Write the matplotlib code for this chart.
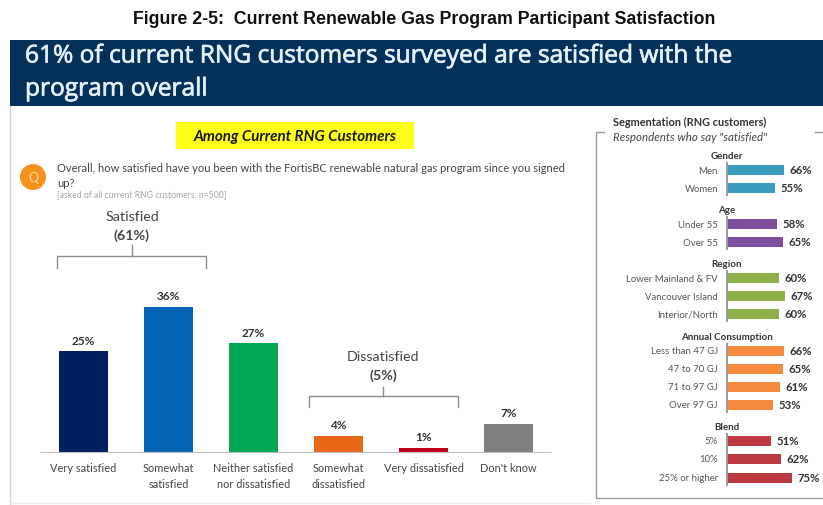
import matplotlib
matplotlib.use("Agg")
import matplotlib.pyplot as plt
import matplotlib.patheffects as pe
from matplotlib.patches import Rectangle, Circle

W, H = 823, 506
FONT = ["Lato", "Open Sans", "DejaVu Sans"]
plt.rcParams["font.family"] = FONT

# Main chart
main_labels = ["Very satisfied", "Somewhat\nsatisfied", "Neither satisfied\nnor dissatisfied",
               "Somewhat\ndissatisfied", "Very dissatisfied", "Don't know"]
main_values = [25, 36, 27, 4, 1, 7]
main_colors = ["#002060", "#0563B5", "#00A650", "#E8681A", "#C00018", "#7F7F7F"]

# Segmentation
seg_groups = ["Gender", "Age", "Region", "Annual Consumption", "Blend"]
seg_labels = [["Men", "Women"], ["Under 55", "Over 55"],
              ["Lower Mainland & FV", "Vancouver Island", "Interior/North"],
              ["Less than 47 GJ", "47 to 70 GJ", "71 to 97 GJ", "Over 97 GJ"],
              ["5%", "10%", "25% or higher"]]
seg_values = [[66, 55], [58, 65], [60, 67, 60], [66, 65, 61, 53], [51, 62, 75]]
seg_colors = ["#3A9DBE", "#7E4F9E", "#8DB04A", "#F58A3C", "#BE3A42"]


def px_axes(fig, x0, y0, x1, y1):
    return fig.add_axes([x0 / W, 1 - y1 / H, (x1 - x0) / W, (y1 - y0) / H])


fig = plt.figure(figsize=(W / 100, H / 100), dpi=100, facecolor="white")

# Overlay in pixel coordinates for slide furniture
bg = fig.add_axes([0, 0, 1, 1])
bg.set_xlim(0, W)
bg.set_ylim(H, 0)
bg.axis("off")

bg.text(424.5, 19, "Figure 2-5:  Current Renewable Gas Program Participant Satisfaction",
        ha="center", va="center", fontsize=12.8, fontweight="bold",
        family=["Liberation Sans"], color="#111111")
bg.add_patch(Rectangle((10, 41), W - 10, 66, fc="#04305A", ec="none"))
stroke = [pe.withStroke(linewidth=0.5, foreground="#E4F1F8")]
bg.text(25, 57, "61% of current RNG customers surveyed are satisfied with the",
        color="#E4F1F8", fontsize=17.65, va="center", family=["Open Sans"], path_effects=stroke)
bg.text(25, 90, "program overall", color="#E4F1F8", fontsize=17.65, va="center",
        family=["Open Sans"], path_effects=stroke)

bg.plot([10.5, 10.5], [107, 505], color="#D4D4D4", lw=1)
bg.plot([10.5, 590], [504, 504], color="#EDEDED", lw=1)

bg.add_patch(Rectangle((176, 123), 238, 27, fc="#FFFF1A", ec="none"))
bg.text(295, 137, "Among Current RNG Customers", ha="center", va="center",
        fontsize=10.9, fontweight="bold", fontstyle="italic", color="#1A1A1A")

bg.add_patch(Circle((33, 178), 13, fc="#F5921E", ec="none"))
bg.text(33, 178, "Q", color="#FBD9A8", ha="center", va="center", fontsize=9)
bg.text(57, 168, "Overall, how satisfied have you been with the FortisBC renewable natural gas program since you signed",
        fontsize=8.0, va="center", color="#444444")
bg.text(57, 183, "up?", fontsize=8.0, va="center", color="#444444")
bg.text(57, 195, "[asked of all current RNG customers, n=500]", fontsize=6.2, va="center", color="#A5A5A5")

bg.text(132, 217, "Satisfied", fontsize=10.3, ha="center", va="center", color="#444444")
bg.text(132, 236, "(61%)", fontsize=10.3, ha="center", va="center", fontweight="bold", color="#444444")
bg.plot([57.5, 57.5, 206, 206], [269, 257, 257, 269], color="#8C8C8C", lw=1)
bg.plot([132, 132], [246, 257], color="#8C8C8C", lw=1)

bg.text(383, 357, "Dissatisfied", fontsize=10.3, ha="center", va="center", color="#444444")
bg.text(383, 376, "(5%)", fontsize=10.3, ha="center", va="center", fontweight="bold", color="#444444")
bg.plot([309, 309, 458, 458], [408, 397, 397, 408], color="#8C8C8C", lw=1)
bg.plot([383, 383], [388, 397], color="#8C8C8C", lw=1)

# Segmentation frame and heading (the right side runs off the canvas)
bg.plot([604, 596, 596, 823], [132.5, 132.5, 499, 499], color="#9A9A9A", lw=1)
bg.plot([815, 823], [132.5, 132.5], color="#9A9A9A", lw=1)
bg.text(613, 122, "Segmentation (RNG customers)", fontsize=7.9, fontweight="bold",
        va="center", color="#333333")
bg.text(613, 137.5, "Respondents who say \"satisfied\"", fontsize=8.3, fontstyle="italic",
        va="center", color="#444444")

# Main bars
ax = px_axes(fig, 41, 300, 550, 453)
ax.patch.set_alpha(0)
px_per_unit = 4.03
ax.set_ylim(0, 153 / px_per_unit)
ax.set_xlim(-(83.5 - 41) / 85, (550 - 83.5) / 85)
xs = list(range(len(main_values)))
ax.bar(xs, main_values, width=49 / 85, color=main_colors)
for x, v in zip(xs, main_values):
    ax.annotate(f"{v}%", (x, v), xytext=(0, 4), textcoords="offset points", ha="center", va="bottom",
                fontsize=8.5, fontweight="bold", color="#333333")
for s in ["top", "left", "right"]:
    ax.spines[s].set_visible(False)
ax.spines["bottom"].set_color("#BDBDBD")
ax.set_yticks([])
ax.set_xticks(xs, main_labels, fontsize=7.9, color="#444444", linespacing=1.5, va="top")
ax.tick_params(axis="x", length=0, pad=7.5)

# Segmentation bars: each group has its own short axis line
seg = px_axes(fig, 727, 162, 818, 489)
seg.patch.set_alpha(0)
seg.set_xlim(0, 91 / 0.864)
seg.set_ylim(489, 162)
row_y = [[171, 189], [225, 243], [279, 297, 315], [352, 370, 388, 406], [442, 460, 479]]
for group, labs, vals, col, ys in zip(seg_groups, seg_labels, seg_values, seg_colors, row_y):
    seg.barh(ys, vals, height=10, color=col)
    seg.vlines(0, ys[0] - 8, ys[-1] + 8, color="#9A9A9A", lw=1.4, clip_on=False)
    for yy, lab, v in zip(ys, labs, vals):
        seg.annotate(f"{v}%", (v, yy), xytext=(4, 0), textcoords="offset points", va="center",
                     fontsize=8.2, fontweight="bold", color="#333333", annotation_clip=False)
        bg.text(718, yy, lab, ha="right", va="center", fontsize=6.9, color="#555555")
    bg.text(727, ys[0] - 14.5, group, ha="center", va="center", fontsize=7.0,
            fontweight="bold", color="#333333")
seg.axis("off")

fig.savefig("out.png", dpi=100)
